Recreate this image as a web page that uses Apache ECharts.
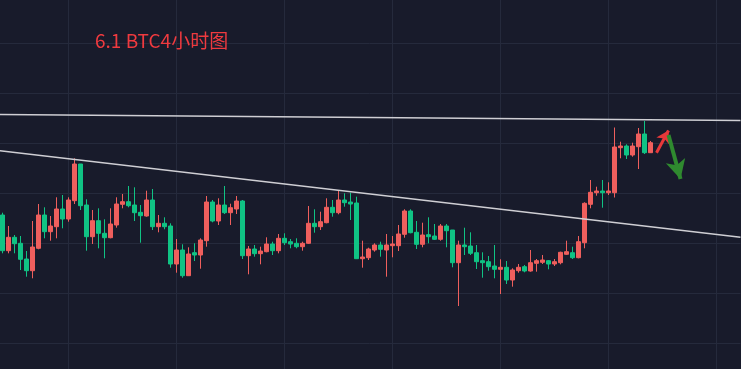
<!DOCTYPE html>
<html>
<head>
<meta charset="utf-8">
<script src="https://cdn.jsdelivr.net/npm/echarts@6/dist/echarts.min.js"></script>
<style>
html,body{margin:0;padding:0;background:#181b2b;}
#chart{width:741px;height:369px;}
</style>
</head>
<body>
<div id="chart"></div>
<script>
// ---- data ----
var titleText = '6.1 BTC4小时图';
// each candle: [open, close, low, high]
var candles = [
[9280,8923,8897,9303],[8923,9057,8897,9170],[9057,8993,8897,9080],[8997,8837,8730,9070],
[8840,8723,8663,8920],[8723,8960,8647,9220],[8947,9280,8937,9390],[9280,9113,9047,9357],
[9113,9170,9023,9270],[9163,9340,9047,9457],[9340,9240,9147,9480],[9240,9430,9213,9457],
[9423,9790,9390,9847],[9790,9373,9330,9790],[9380,9063,8923,9437],[9063,9223,8990,9330],
[9223,9097,8947,9347],[9097,9053,8847,9237],[9053,9190,9047,9347],[9180,9390,9153,9457],
[9387,9413,9347,9490],[9413,9373,9357,9570],[9380,9303,9220,9557],[9307,9273,9003,9380],
[9270,9430,9263,9523],[9430,9163,9130,9540],[9163,9197,9107,9280],[9197,9163,9137,9257],
[9170,8790,8753,9197],[8790,8930,8703,9040],[8930,8673,8653,8987],[8673,8890,8670,8957],
[8903,8880,8820,8997],[8880,9030,8743,9047],[9023,9410,8963,9470],[9410,9220,9207,9430],
[9220,9380,9180,9447],[9380,9303,9290,9570],[9303,9353,9180,9393],[9340,9420,9290,9470],
[9420,8873,8840,9430],[8873,8940,8687,8970],[8940,8893,8863,8980],[8893,8920,8787,8963],
[8913,8990,8907,9057],[8990,8923,8880,9013],[8923,9047,8897,9090],[9047,9003,8980,9097],
[9013,8990,8947,9040],[8997,8963,8947,9047],[8963,8997,8923,9013],[8997,9197,8990,9370],
[9197,9163,9103,9337],[9163,9213,9130,9313],[9203,9357,9197,9447],[9357,9303,9263,9430],
[9303,9430,9287,9520],[9430,9403,9363,9497],[9410,9390,9230,9503],[9400,8843,8840,9463],
[8843,8860,8753,9023],[8853,8940,8830,8953],[8930,8980,8913,8997],[8980,8937,8863,9013],
[8930,8980,8663,9090],[8973,8990,8857,9070],[8973,9090,8920,9180],[9087,9320,9053,9337],
[9320,9103,9097,9337],[9107,8987,8940,9220],[8987,9080,8957,9203],[9083,9063,8997,9257],
[9070,9037,9030,9190],[9037,9170,9023,9190],[9170,9123,8957,9190],[9130,8803,8757,9130],
[8803,8980,8370,9023],[8980,8963,8880,9153],[8970,8897,8880,9107],[8903,8813,8740,8980],
[8823,8803,8653,8907],[8813,8763,8723,8870],[8770,8737,8647,8980],[8737,8757,8490,8837],
[8757,8630,8590,8820],[8630,8730,8563,8747],[8723,8757,8703,8790],[8763,8720,8707,8780],
[8720,8803,8713,8930],[8797,8823,8713,8840],[8807,8830,8790,8880],[8823,8790,8737,8830],
[8790,8813,8770,8840],[8803,8907,8787,8913],[8887,8913,8880,9023],[8903,8853,8840,8963],
[8853,9013,8847,9070],[9003,9397,8947,9407],[9387,9507,9347,9630],[9503,9520,9473,9563],
[9520,9503,9353,9630],[9503,9520,9480,9607],[9503,9960,9455,10155],[9953,9970,9847,10013],
[9970,9880,9840,9987],[9880,9970,9863,10003],[9963,10090,9740,10150],[10090,9903,9890,10220],
[9903,10003,9903,10020]
];
// trend lines: [category index, price] endpoints
var resistanceLine = [[0, 10285], [124, 10225]];
var descendingLine = [[0, 9927], [124, 9057]];
// annotation arrows: [fromCategory, fromPrice, toCategory, toPrice]
var upArrow = [109.9, 9903, 111.85, 10125];
var downArrow = [112.1, 10080, 114.35, 9640];
var priceMin = 7500, priceMax = 11500, priceStep = 500;

// categories: one leading slot, the candles, then empty slots on the right (4h bars)
var categories = [];
var t0 = Date.UTC(2020, 4, 14, 0, 0);
for (var i = 0; i < 125; i++) {
  var d = new Date(t0 + i * 4 * 3600 * 1000);
  categories.push((d.getUTCMonth() + 1) + '-' + d.getUTCDate() + ' ' + ('0' + d.getUTCHours()).slice(-2) + ':00');
}
var candleData = ['-'].concat(candles);

var chart = echarts.init(document.getElementById('chart'), null, {renderer: 'canvas'});
chart.setOption({
  backgroundColor: '#181b2b',
  animation: false,
  title: {
    text: titleText,
    left: 95, top: 31, padding: 0,
    textStyle: {color: '#ef3a3f', fontSize: 19, fontWeight: 'normal', fontFamily: '"Noto Sans CJK SC", "Noto Sans", sans-serif'}
  },
  grid: {left: -3.5, top: -7, width: 744, height: 400, containLabel: false, outerBoundsMode: 'none'},
  xAxis: {
    type: 'category', data: categories, boundaryGap: false,
    axisLine: {show: false}, axisTick: {show: false}, axisLabel: {show: false},
    splitLine: {show: true, interval: function (idx) { return idx % 18 === 12; }, lineStyle: {color: '#252a3c', width: 1}}
  },
  yAxis: {
    type: 'value', min: priceMin, max: priceMax, interval: priceStep,
    axisLine: {show: false}, axisTick: {show: false}, axisLabel: {show: false},
    splitLine: {show: true, lineStyle: {color: '#252a3c', width: 1}}
  },
  series: [
    {
      type: 'candlestick', data: candleData, barWidth: 4,
      itemStyle: {color: '#ef5f5d', color0: '#10c384', borderColor: '#ef5f5d', borderColor0: '#10c384', borderWidth: 1}
    },
    {
      type: 'line', data: resistanceLine, symbol: 'none', silent: true,
      lineStyle: {color: '#cfcfd4', width: 1.5}
    },
    {
      type: 'line', data: descendingLine, symbol: 'none', silent: true,
      lineStyle: {color: '#cfcfd4', width: 1.5},
      markLine: {
        silent: true, animation: false, label: {show: false},
        data: [
          [
            {coord: [upArrow[0], upArrow[1]], symbol: 'none', lineStyle: {color: '#e8383a', width: 3, type: 'solid'}, itemStyle: {color: '#e8383a'}},
            {coord: [upArrow[2], upArrow[3]], symbol: 'arrow', symbolSize: [11, 12]}
          ],
          [
            {coord: [downArrow[0], downArrow[1]], symbol: 'none', lineStyle: {color: '#2f8a2f', width: 4, type: 'solid'}, itemStyle: {color: '#2f8a2f'}},
            {coord: [downArrow[2], downArrow[3]], symbol: 'arrow', symbolSize: [15, 19]}
          ]
        ]
      }
    }
  ]
});
</script>
</body>
</html>
